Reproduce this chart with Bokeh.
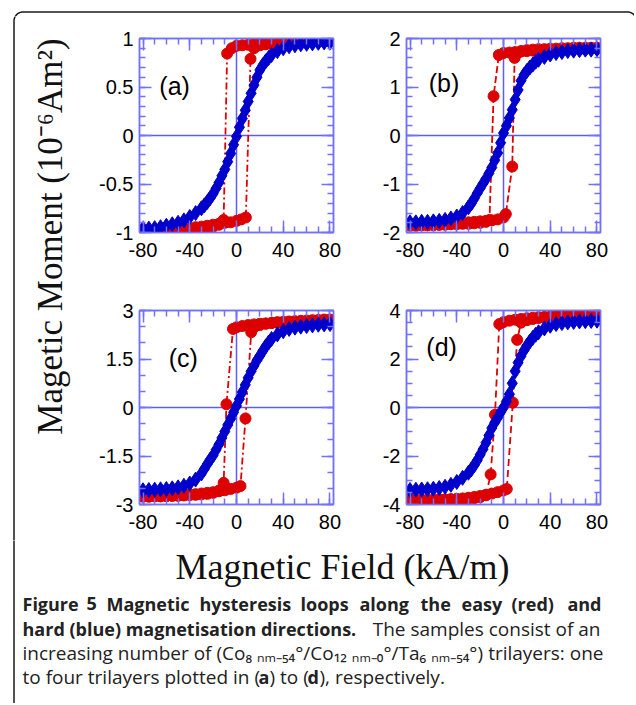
import numpy as np
from bokeh.plotting import figure
from bokeh.models import Range1d, LinearAxis, FixedTicker, Span, Label
from bokeh.layouts import column, row
from bokeh.embed import file_html
from bokeh.resources import INLINE
from bokeh.core.properties import value

# ---------------- data ----------------
X_TICKS = [-80, -40, 0, 40, 80]
X_TICK_LABELS = ["-80", "-40", "0", "40", "80"]

# field grid of the hard-axis (blue) sweeps, kA/m
BLUE_H = [-80, -75, -70, -65, -60, -55, -50, -45, -40, -35, -30, -27.5, -25, -22.5,
          -20, -17.5, -15, -12.5, -10, -7.5, -5, -2.5, 0, 2.5, 5, 7.5, 10, 12.5, 15,
          17.5, 20, 22.5, 25, 27.5, 30, 35, 40, 45, 50, 55, 60, 65, 70, 75, 80]

# ---- (a) one trilayer ----
A_Y_TICKS = [-1, -0.5, 0, 0.5, 1]
A_Y_LABELS = ["-1", "-0.5", "0", "0.5", "1"]
A_RED_DOWN_H = [80, 75, 70, 65, 60, 55, 50, 45, 40, 35, 30, 25, 20, 15, 10, 5, 0, -4, -8, -11,
                -15, -20, -25, -30, -35, -40, -45, -50, -55, -60, -65, -70, -75, -80]
A_RED_DOWN_M = [0.975, 0.97, 0.97, 0.965, 0.96, 0.96, 0.955, 0.955, 0.95, 0.95, 0.945, 0.945,
                0.94, 0.94, 0.935, 0.93, 0.925, 0.9, 0.845, -0.87, -0.92, -0.94, -0.95, -0.96,
                -0.965, -0.97, -0.975, -0.98, -0.985, -0.99, -0.99, -0.99, -0.98, -0.965]
A_RED_UP_H = [-80, -75, -70, -65, -60, -55, -50, -45, -40, -35, -30, -25, -20, -15, -10, -5, 0,
              4, 8, 12, 15, 20, 25, 30, 35, 40, 45, 50, 55, 60, 65, 70, 75, 80]
A_RED_UP_M = [-0.975, -0.985, -0.99, -0.985, -0.98, -0.975, -0.965, -0.96, -0.955, -0.945,
              -0.94, -0.93, -0.92, -0.91, -0.9, -0.895, -0.88, -0.865, -0.845, 0.79, 0.9, 0.93,
              0.94, 0.945, 0.95, 0.955, 0.96, 0.96, 0.965, 0.965, 0.97, 0.97, 0.975, 0.98]
A_BLUE_M = [-0.965, -0.96, -0.955, -0.945, -0.93, -0.915, -0.9, -0.875, -0.84, -0.8, -0.75,
            -0.72, -0.685, -0.645, -0.6, -0.545, -0.485, -0.415, -0.35, -0.27, -0.185, -0.095,
            -0.01, 0.085, 0.175, 0.26, 0.35, 0.435, 0.52, 0.6, 0.675, 0.725, 0.765, 0.8, 0.83,
            0.87, 0.9, 0.92, 0.93, 0.94, 0.945, 0.95, 0.955, 0.96, 0.96]

# ---- (b) two trilayers ----
B_Y_TICKS = [-2, -1, 0, 1, 2]
B_Y_LABELS = ["-2", "-1", "0", "1", "2"]
B_RED_DOWN_H = [80, 75, 70, 65, 60, 55, 50, 45, 40, 35, 30, 25, 20, 15, 10, 5, 0, -4, -8.5, -12,
                -15, -20, -25, -30, -35, -40, -45, -50, -55, -60, -65, -70, -75, -80]
B_RED_DOWN_M = [1.79, 1.79, 1.78, 1.78, 1.78, 1.77, 1.77, 1.77, 1.76, 1.76, 1.75, 1.75, 1.74,
                1.73, 1.72, 1.71, 1.7, 1.66, 0.81, -1.74, -1.78, -1.8, -1.81, -1.82, -1.82,
                -1.83, -1.83, -1.84, -1.84, -1.85, -1.85, -1.85, -1.84, -1.83]
B_RED_UP_H = [-80, -75, -70, -65, -60, -55, -50, -45, -40, -35, -30, -25, -20, -15, -10, -5, 0,
              2, 7.5, 9.5, 12, 15, 20, 25, 30, 35, 40, 45, 50, 55, 60, 65, 70, 75, 80]
B_RED_UP_M = [-1.86, -1.86, -1.85, -1.85, -1.84, -1.84, -1.83, -1.82, -1.81, -1.8, -1.79,
              -1.78, -1.77, -1.76, -1.75, -1.73, -1.69, -1.62, -0.64, 1.6, 1.7, 1.74, 1.76,
              1.77, 1.78, 1.78, 1.79, 1.79, 1.8, 1.8, 1.81, 1.81, 1.81, 1.81, 1.81]
B_BLUE_M = [-1.79, -1.79, -1.78, -1.78, -1.77, -1.76, -1.74, -1.71, -1.67, -1.6, -1.48, -1.4,
            -1.3, -1.19, -1.09, -0.99, -0.89, -0.78, -0.66, -0.51, -0.36, -0.15, 0.05, 0.2,
            0.36, 0.53, 0.74, 0.94, 1.13, 1.25, 1.33, 1.4, 1.46, 1.52, 1.56, 1.62, 1.67, 1.7,
            1.72, 1.74, 1.75, 1.76, 1.77, 1.77, 1.78]

# ---- (c) three trilayers ----
C_Y_TICKS = [-3, -1.5, 0, 1.5, 3]
C_Y_LABELS = ["-3", "-1.5", "0", "1.5", "3"]
C_RED_DOWN_H = [80, 75, 70, 65, 60, 55, 50, 45, 40, 35, 30, 25, 20, 15, 10, 5, 0, -3, -8.6, -11,
                -15, -20, -25, -30, -35, -40, -45, -50, -55, -60, -65, -70, -75, -80]
C_RED_DOWN_M = [2.71, 2.7, 2.69, 2.68, 2.67, 2.66, 2.65, 2.64, 2.63, 2.62, 2.61, 2.6, 2.59,
                2.57, 2.55, 2.52, 2.48, 2.43, 0.1, -2.33, -2.57, -2.64, -2.67, -2.69, -2.7,
                -2.71, -2.72, -2.73, -2.73, -2.74, -2.74, -2.74, -2.74, -2.73]
C_RED_UP_H = [-80, -75, -70, -65, -60, -55, -50, -45, -40, -35, -30, -25, -20, -15, -10, -5, 0,
              3.4, 7.7, 12.6, 15, 20, 25, 30, 35, 40, 45, 50, 55, 60, 65, 70, 75, 80]
C_RED_UP_M = [-2.76, -2.76, -2.75, -2.75, -2.74, -2.73, -2.72, -2.71, -2.69, -2.68, -2.66,
              -2.64, -2.62, -2.59, -2.56, -2.52, -2.48, -2.43, -0.34, 2.33, 2.48, 2.55, 2.59,
              2.62, 2.64, 2.65, 2.66, 2.67, 2.68, 2.69, 2.7, 2.71, 2.72, 2.72]
C_BLUE_M = [-2.56, -2.55, -2.54, -2.53, -2.52, -2.5, -2.47, -2.42, -2.35, -2.23, -2.04, -1.9,
            -1.75, -1.61, -1.48, -1.31, -1.14, -0.94, -0.74, -0.54, -0.35, -0.15, 0.05, 0.26,
            0.48, 0.7, 0.92, 1.12, 1.29, 1.46, 1.6, 1.75, 1.89, 2.01, 2.12, 2.26, 2.36, 2.43,
            2.47, 2.5, 2.52, 2.54, 2.56, 2.57, 2.58]

# ---- (d) four trilayers ----
D_Y_TICKS = [-4, -2, 0, 2, 4]
D_Y_LABELS = ["-4", "-2", "0", "2", "4"]
D_RED_DOWN_H = [80, 75, 70, 65, 60, 55, 50, 45, 40, 35, 30, 25, 20, 15, 10, 5, 0, -3.6, -7.3,
                -11, -15, -20, -25, -30, -35, -40, -45, -50, -55, -60, -65, -70, -75, -80]
D_RED_DOWN_M = [3.82, 3.81, 3.8, 3.79, 3.78, 3.77, 3.76, 3.75, 3.74, 3.73, 3.72, 3.7, 3.68,
                3.65, 3.62, 3.58, 3.52, 3.44, -0.3, -2.76, -3.62, -3.7, -3.74, -3.76, -3.77,
                -3.78, -3.78, -3.79, -3.79, -3.8, -3.8, -3.8, -3.8, -3.8]
D_RED_UP_H = [-80, -75, -70, -65, -60, -55, -50, -45, -40, -35, -30, -25, -20, -15, -10, -5, 0,
              2.8, 8, 11.7, 15, 20, 25, 30, 35, 40, 45, 50, 55, 60, 65, 70, 75, 80]
D_RED_UP_M = [-3.84, -3.84, -3.83, -3.83, -3.82, -3.81, -3.8, -3.79, -3.77, -3.75, -3.72,
              -3.69, -3.65, -3.6, -3.55, -3.49, -3.42, -3.36, 0.2, 2.79, 3.5, 3.6, 3.65, 3.69,
              3.72, 3.74, 3.76, 3.77, 3.78, 3.79, 3.8, 3.81, 3.82, 3.83]
D_BLUE_M = [-3.4, -3.39, -3.38, -3.37, -3.35, -3.32, -3.27, -3.19, -3.07, -2.9, -2.69, -2.55,
            -2.38, -2.18, -1.95, -1.72, -1.45, -1.15, -0.85, -0.62, -0.42, -0.2, 0.0, 0.25,
            0.55, 1.0, 1.5, 1.85, 2.12, 2.35, 2.55, 2.72, 2.87, 3.0, 3.1, 3.26, 3.37, 3.44,
            3.48, 3.51, 3.53, 3.55, 3.56, 3.57, 3.58]

Y_TITLE = "Magetic Moment (10\u207b\u2076Am\u00b2)"
X_TITLE = "Magnetic Field (kA/m)"

# ---------------- styling ----------------
FRAME = "#7272ff"
ZERO = "#5c5cff"
RED = "#dc0000"
BLUE = "#0000cc"
TICK_FONT = "Liberation Sans"


def styled_axis(ticks, labels, minor, show):
    ax = LinearAxis(ticker=FixedTicker(ticks=ticks, minor_ticks=minor))
    ax.axis_line_color = FRAME
    ax.axis_line_width = 1.5
    ax.major_tick_line_color = FRAME
    ax.major_tick_line_width = 1.5
    ax.minor_tick_line_color = FRAME
    ax.minor_tick_line_width = 1.5
    ax.major_tick_in = 12
    ax.major_tick_out = 0
    ax.minor_tick_in = 6
    ax.minor_tick_out = 0
    ax.major_label_text_font = TICK_FONT
    if show:
        ax.major_label_overrides = {t: l for t, l in zip(ticks, labels)}
        ax.major_label_text_font_size = "20px"
        ax.major_label_text_color = "black"
    else:
        ax.major_label_overrides = {t: "" for t in ticks}
        ax.major_label_text_font_size = "1px"
        ax.major_label_standoff = 0
    return ax


def panel(width, height, bl, br, bt, bb, yr, yticks, ylabels, ystep,
          rdh, rdm, ruh, rum, bm, tag, tag_xy, dash):
    p = figure(width=width, height=height, x_range=Range1d(-83, 83),
               y_range=Range1d(-yr, yr), x_axis_location=None, y_axis_location=None,
               toolbar_location=None, output_backend="svg",
               min_border_left=bl, min_border_right=br, min_border_top=bt,
               min_border_bottom=bb)
    p.grid.visible = False
    p.outline_line_color = FRAME
    p.outline_line_width = 1.5
    p.background_fill_color = "white"
    p.border_fill_color = "white"
    xminor = list(np.arange(-80, 81, 10))
    yminor = list(np.round(np.arange(-yr, yr + ystep / 2, ystep), 6))
    bx = styled_axis(X_TICKS, X_TICK_LABELS, xminor, True)
    bx.major_label_standoff = 10
    p.add_layout(bx, "below")
    p.add_layout(styled_axis(X_TICKS, X_TICK_LABELS, xminor, False), "above")
    ly = styled_axis(yticks, ylabels, yminor, True)
    ly.major_label_standoff = 6
    p.add_layout(ly, "left")
    p.add_layout(styled_axis(yticks, ylabels, yminor, False), "right")

    p.add_layout(Span(location=0, dimension="width", line_color=ZERO, line_width=1.5,
                      level="underlay"))
    p.add_layout(Span(location=0, dimension="height", line_color=ZERO, line_width=1.5,
                      level="underlay"))

    for hh, mm in ((rdh, rdm), (ruh, rum)):
        p.line(hh, mm, line_color=RED, line_width=1.8, line_dash=dash)
        p.scatter(hh, mm, marker="circle", size=11, fill_color=RED, line_color=RED)
    p.line(BLUE_H, bm, line_color=BLUE, line_width=2)
    p.scatter(BLUE_H, bm, marker="diamond", size=15, fill_color=BLUE, line_color=BLUE)

    p.add_layout(Label(x=tag_xy[0], y=tag_xy[1], text=tag, text_font=TICK_FONT,
                       text_font_size="25px", text_baseline="middle", text_align="left",
                       text_color="black"))
    return p


pa = panel(252, 256, 44, 14, 22, 40, 1, A_Y_TICKS, A_Y_LABELS, 0.1,
           A_RED_DOWN_H, A_RED_DOWN_M, A_RED_UP_H, A_RED_UP_M, A_BLUE_M, "(a)", (-66, 0.51),
           "7 3 2 3")
pb = panel(287, 256, 59, 34, 22, 40, 2, B_Y_TICKS, B_Y_LABELS, 0.2,
           B_RED_DOWN_H, B_RED_DOWN_M, B_RED_UP_H, B_RED_UP_M, B_BLUE_M, "(b)", (-64, 1.09),
           "7 3")
pc = panel(252, 268, 44, 14, 38, 36, 3, C_Y_TICKS, C_Y_LABELS, 0.5,
           C_RED_DOWN_H, C_RED_DOWN_M, C_RED_UP_H, C_RED_UP_M, C_BLUE_M, "(c)", (-58, 1.54),
           "7 3 2 3")
pd_ = panel(287, 268, 59, 34, 38, 36, 4, D_Y_TICKS, D_Y_LABELS, 0.5,
            D_RED_DOWN_H, D_RED_DOWN_M, D_RED_UP_H, D_RED_UP_M, D_BLUE_M, "(d)", (-66, 2.48),
            "7 4")


# ---------------- canvas pieces (page pixel coordinates) ----------------
def canvas(width, height, x0, x1, y0, y1):
    c = figure(width=width, height=height, x_range=Range1d(x0, x1), y_range=Range1d(y1, y0),
               x_axis_location=None, y_axis_location=None, toolbar_location=None,
               output_backend="svg", min_border=0)
    c.grid.visible = False
    c.outline_line_color = None
    return c


W = 634
# rounded frame around the figure (top-left corner, top edge, right corner)
r = 9.0
t1 = np.linspace(np.pi, 1.5 * np.pi, 12)
t2 = np.linspace(1.5 * np.pi, 2 * np.pi, 12)
bx_ = np.concatenate([[13.5], 13.5 + r + r * np.cos(t1), 627 + r * np.cos(t2), [636]])
by_ = np.concatenate([[720], 11.5 + r + r * np.sin(t1), 11.5 + r + r * np.sin(t2), [720]])

strip = canvas(W, 16, 0, W, 0, 16)
left = canvas(95, 524, 0, 95, 16, 540)
bottom = canvas(W, 163, 0, W, 540, 703)
for c in (strip, left, bottom):
    c.line(bx_, by_, line_color="#1a1a1a", line_width=1.5)

left.text(x=[50], y=[236], text=[Y_TITLE], angle=np.pi / 2,
          text_font=value("Liberation Serif"), text_font_size="35px",
          text_align="center", text_baseline="middle", text_color="#111111")

bottom.text(x=[342], y=[566], text=[X_TITLE], text_font=value("Liberation Serif"),
            text_font_size="36px", text_align="center", text_baseline="middle",
            text_color="#111111")

CAP = value("Open Sans")


def cap(x, y, s, bold=False, align="left"):
    bottom.text(x=[x], y=[y], text=[s], text_font=CAP,
                text_font_size="18px" if bold else "19px",
                text_font_style="bold" if bold else "normal",
                text_align=align, text_baseline="middle", text_color="#222222")


# justified first caption line, word by word
for wx, wd in ((22, "Figure"), (86, "5"), (106, "Magnetic"), (199, "hysteresis"),
               (300, "loops"), (359, "along"), (420, "the"), (461, "easy"),
               (511, "(red)")):
    cap(wx, 603, wd, True)
cap(601, 603, "and", True, "right")
cap(22, 628, "hard (blue) magnetisation directions.", True)
cap(600, 628, "The samples consist of an", False, "right")
cap(22, 652, "increasing number of (Co\u2088 \u2099\u2098\u208b\u2085\u2084\u00b0/Co\u2081\u2082 "
             "\u2099\u2098\u208b\u2080\u00b0/Ta\u2086 \u2099\u2098\u208b\u2085\u2084\u00b0)")
cap(603, 652, "trilayers: one", False, "right")
cap(22, 676, "to four trilayers plotted in (")
cap(258, 676, "a", True)
cap(269, 676, ") to (")
cap(307, 676, "d", True)
cap(319, 676, "), respectively.")

layout = column(strip, row(left, column(row(pa, pb), row(pc, pd_))), bottom)

with open("out.html", "w") as f:
    f.write(file_html(layout, INLINE))
